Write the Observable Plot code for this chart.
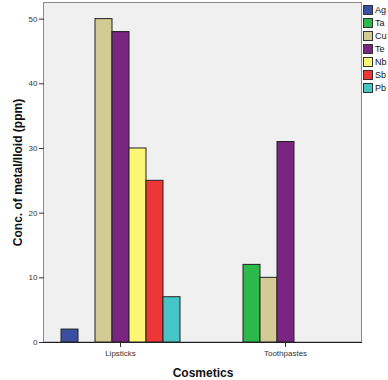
<!DOCTYPE html>
<html>
<head>
<meta charset="utf-8">
<script src="https://cdn.jsdelivr.net/npm/d3@7"></script>
<script src="https://cdn.jsdelivr.net/npm/@observablehq/plot@0.6"></script>
<style>
  html, body { margin: 0; padding: 0; background: #fff; overflow: hidden; width: 388px; height: 380px; }
  #wrap { position: relative; width: 388px; height: 380px; overflow: hidden; }
  #chart svg { font-family: "Liberation Sans", Arial, sans-serif; }
  #chart [aria-label="y-axis label"] text, #chart [aria-label="fx-axis label"] text { font-weight: bold; font-size: 12px; fill: #111; }
  #legend { position: absolute; left: 363px; top: 3px; font-family: "Liberation Sans", Arial, sans-serif; font-size: 9px; color: #111; }
  #legend .item { display: flex; align-items: center; height: 13px; white-space: nowrap; }
  #legend .sw { width: 8px; height: 8px; border: 1px solid #333; margin-right: 2px; }
</style>
</head>
<body>
<div id="wrap">
  <div id="chart"></div>
  <div id="legend"></div>
</div>
<script>
const cosmetics = ["Lipsticks", "Toothpastes"];
const metals = ["Ag", "Ta", "Cu", "Te", "Nb", "Sb", "Pb"];
const colors = ["#3b4fa2", "#2cb84a", "#d3cb93", "#792581", "#fbf676", "#ee3538", "#46c5c6"];
const lipstickValues = [2, null, 50, 48, 30, 25, 7];
const toothpasteValues = [null, 12, 10, 31, null, null, null];
const yTicks = [0, 10, 20, 30, 40, 50];

const data = [];
[lipstickValues, toothpasteValues].forEach((vals, i) => {
  vals.forEach((v, j) => {
    if (v != null) data.push({cosmetic: cosmetics[i], metal: metals[j], value: v});
  });
});

const W = 388, H = 380, ML = 43, MR = 26, MT = 2, MB = 38;

const chart = Plot.plot({
  width: W,
  height: H,
  marginLeft: ML,
  marginRight: MR,
  marginTop: MT,
  marginBottom: MB,
  style: {fontSize: "8px", color: "#333", background: "transparent"},
  fx: {domain: cosmetics, paddingInner: 0.078, paddingOuter: 0, label: "Cosmetics", labelAnchor: "center", labelOffset: 34, tickSize: 5, tickPadding: 3},
  x: {domain: metals, padding: 0, inset: 15, axis: null},
  y: {domain: [0, 52.57], ticks: yTicks, tickSize: 5, tickPadding: 2, label: "Conc. of metal/lloid (ppm)", labelAnchor: "center", labelOffset: 31, labelArrow: "none"},
  color: {domain: metals, range: colors},
  marks: [
    Plot.barY(data, {fx: "cosmetic", x: "metal", y: "value", fill: "metal", stroke: "#222", strokeWidth: 1})
  ]
});

// plot-area background and border, placed from the chart's own y scale and margins
const ys = chart.scale("y");
const y0 = ys.range[0], y1 = ys.range[1];
const svg = d3.select(chart);
const bg = svg.insert("g", ":first-child");
bg.append("rect")
  .attr("x", ML + 0.5).attr("y", Math.min(y0, y1) + 0.5)
  .attr("width", W - ML - MR - 1).attr("height", Math.abs(y0 - y1) - 0.5)
  .attr("fill", "#f0f0f0").attr("stroke", "#8a8a8a");
svg.append("line")
  .attr("x1", ML).attr("x2", W - MR)
  .attr("y1", y0 + 0.5).attr("y2", y0 + 0.5)
  .attr("stroke", "#222");
document.getElementById("chart").appendChild(chart);

const legend = document.getElementById("legend");
metals.forEach((m, i) => {
  const item = document.createElement("div");
  item.className = "item";
  const sw = document.createElement("div");
  sw.className = "sw";
  sw.style.background = colors[i];
  const lab = document.createElement("span");
  lab.textContent = m;
  item.appendChild(sw);
  item.appendChild(lab);
  legend.appendChild(item);
});
</script>
</body>
</html>
